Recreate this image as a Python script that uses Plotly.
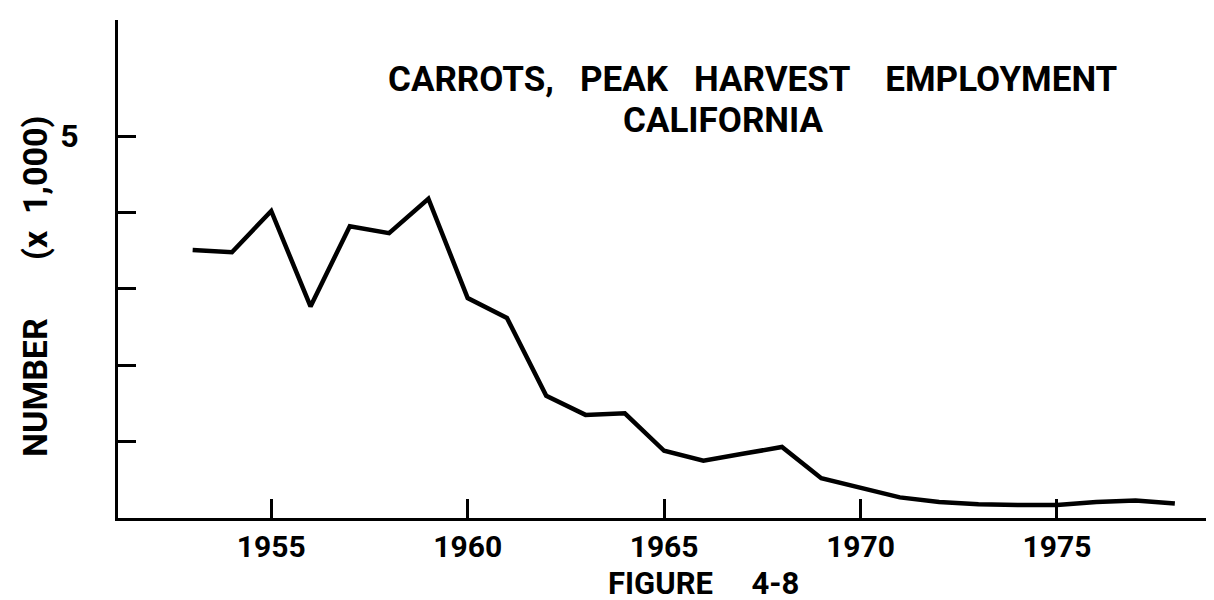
import plotly.graph_objects as go

years = list(range(1953, 1979))
workers_thousands = [3.51, 3.48, 4.02, 2.77, 3.82, 3.73, 4.18, 2.88, 2.62, 1.60,
                     1.35, 1.37, 0.88, 0.75, 0.84, 0.93, 0.52, 0.40, 0.27, 0.21,
                     0.18, 0.17, 0.17, 0.21, 0.23, 0.19]

x_tickvals = [1955, 1960, 1965, 1970, 1975]
x_ticktext = ["1955", "1960", "1965", "1970", "1975"]
y_tickvals = [1, 2, 3, 4, 5]
y_ticktext = ["", "", "", "", "5"]

title_line1 = ("CARROTS,&nbsp;&nbsp;&nbsp;PEAK&nbsp;&nbsp;&nbsp;HARVEST"
               "&nbsp;&nbsp;&nbsp;&nbsp;EMPLOYMENT")
title_line2 = "CALIFORNIA"
y_title_a = "NUMBER"
y_title_b = "(x&nbsp;&nbsp;1,000)"
caption = "FIGURE&nbsp;&nbsp;&nbsp;&nbsp;&nbsp;4-8"

FONT = "Roboto, Liberation Sans, sans-serif"
FS = 31

W, H = 1214, 600
L, R, T, B = 110, 0, 12, 90

fig = go.Figure()
fig.add_trace(go.Scatter(
    x=years, y=workers_thousands, mode="lines",
    line=dict(color="black", width=4.5, shape="linear"),
    hoverinfo="skip", showlegend=False,
))

fig.update_layout(
    width=W, height=H,
    margin=dict(l=L, r=R, t=T, b=B),
    paper_bgcolor="white", plot_bgcolor="white",
    font=dict(family=FONT, color="black", size=FS, weight="bold"),
    xaxis=dict(
        range=[1951.1, 1979.2], showgrid=False, zeroline=False,
        showline=True, linecolor="black", linewidth=3,
        ticks="inside", ticklen=19, tickwidth=3, tickcolor="black",
        tickvals=x_tickvals, ticktext=x_ticktext,
        tickfont=dict(size=30, family=FONT, weight="bold"),
        ticklabelstandoff=0,
    ),
    yaxis=dict(
        range=[0, 6.52], showgrid=False, zeroline=False,
        showline=True, linecolor="black", linewidth=3,
        ticks="inside", ticklen=18, tickwidth=3, tickcolor="black",
        tickvals=y_tickvals, ticktext=y_ticktext,
        tickfont=dict(size=32, family=FONT, weight="bold"),
        ticklabelstandoff=30,
    ),
)

# annotations given in pixel positions, converted to paper coordinates
pw, ph = W - L - R, H - T - B
def px_ann(text, px, py, size, angle=0):
    return dict(text=text, x=(px - L) / pw, y=1 - (py - T) / ph,
                xref="paper", yref="paper", showarrow=False,
                xanchor="center", yanchor="middle", textangle=angle,
                font=dict(size=size, family=FONT, weight="bold"))

fig.update_layout(annotations=[
    px_ann(title_line1, 745, 72, 35),
    px_ann(title_line2, 715, 113, 35),
    px_ann(y_title_a, 27, 380, 34, -90),
    px_ann(y_title_b, 27, 180, 34, -90),
    px_ann(caption, 695, 575, 31),
])

fig.write_html("out.html")
